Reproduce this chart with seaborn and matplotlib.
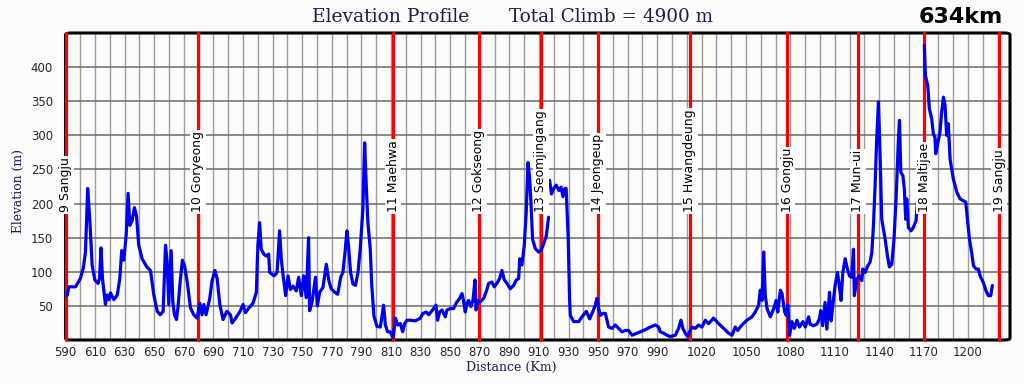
import numpy as np
import pandas as pd
import matplotlib
matplotlib.use("Agg")
import matplotlib.pyplot as plt
import seaborn as sns
from matplotlib.patches import FancyBboxPatch

# elevation trace (km, m) - three unbroken pieces
km_a = [590, 591, 592.3, 596.8, 600, 602, 603.5, 605, 606.4, 608, 609.8, 612, 613, 614, 615,
        616.3, 617, 618, 619.3, 620.4, 621.5, 622.7, 625, 626.7, 628, 629.4, 631, 632.3, 633.5,
        635, 636.6, 638, 639.5, 641.8, 645, 647.4, 649.7, 652, 654, 656, 657.6, 658.7, 659.8,
        661.4, 662.5, 663.6, 665, 666, 667.3, 669, 670.4, 672.2, 674.5, 676.7, 679, 680.8, 682.3,
        683.5, 685, 687.5, 689, 691, 692.5, 694.3, 696.5, 699, 701.5, 702.6, 705, 708, 710, 711.6,
        714, 716.8, 719, 720, 721.2, 722.3, 724, 725.7, 727.3, 728, 731, 733, 734.7, 735.9, 737,
        738.8, 740.4, 742, 743.7, 746, 747.6, 749.4, 751, 752.7, 754.3, 755, 756.6, 759, 760.2,
        761.8, 764, 766.3, 768, 769.6, 772, 774, 776, 777.5, 779, 780.2, 781.3, 782.7, 784.3, 786,
        787.7, 789.2, 791, 792.2, 793.3, 794.4, 796, 797, 798.5, 800.5, 802.8, 805, 806.2, 807.7,
        809.5, 811.4, 813, 814.5, 816.3, 817.9, 819.2, 820.8, 823, 826.4, 829.8, 831.6, 833.9,
        835.5, 837, 838.8, 840.4, 841.5, 842.9, 844.5, 846.7, 847.8, 850, 852.3, 854, 856.4, 858,
        859, 860.2, 861.4, 862.5, 864, 865.4, 866.8, 867.5, 868.8, 870.4, 872.6, 874.4, 876, 878.2,
        879.8, 881.6, 883.4, 885, 886.6, 888.4, 890.6, 892.9, 894.7, 896.3, 897, 898.5, 900.1,
        901.4, 902.6, 903.7, 904.6, 905.7, 907.5, 909.8, 911.4, 913.2, 915, 916.5]
elev_a = [70, 65, 78, 78, 90, 105, 129, 222, 177, 110, 88, 83, 90, 135, 90,
          66, 52, 66, 59, 69, 64, 59, 66, 90, 131, 117, 153, 215, 168,
          175, 194, 182, 139, 119, 107, 102, 66, 42, 37, 42, 139, 115, 52,
          131, 57, 37, 30, 47, 81, 117, 110, 86, 47, 37, 32, 54, 37,
          52, 37, 61, 86, 102, 90, 52, 30, 42, 37, 25, 32, 42, 52, 40,
          47, 54, 70, 138, 172, 133, 126, 123, 126, 99, 94, 99, 160, 118, 96,
          65, 94, 74, 79, 72, 92, 65, 94, 62, 150, 43, 55, 92, 50,
          70, 77, 111, 87, 75, 70, 67, 92, 99, 130, 160, 138, 99, 82, 80,
          99, 133, 192, 289, 226, 172, 133, 80, 35, 20, 19, 51, 22, 12,
          12, 3, 32, 22, 24, 12, 24, 29, 29, 28, 32, 39, 41,
          37, 41, 46, 51, 29, 41, 44, 34, 44, 46, 46, 54, 61, 68,
          58, 41, 54, 58, 49, 58, 88, 44, 58, 56, 61, 71, 83, 85,
          78, 83, 90, 102, 88, 83, 75, 80, 88, 90, 119, 110, 139,
          187, 260, 238, 202, 148, 134, 129, 131, 141, 153, 180]

km_b = [917.2, 918.5, 920, 921.7, 923.5, 925, 926.2, 927.5, 928.4, 929.8, 930.7, 931.2, 933.5,
        936.9, 939.1, 942, 944.3, 945.9, 948.1, 949.2, 950.4, 951.5, 953.3, 954.9, 957.1, 959.4,
        961.6, 963.9, 966.1, 968.4, 970.6, 972.9, 976.3, 980.8, 985.3, 988.7, 990.9, 992, 994.3,
        996.5, 998.8, 1002.2, 1004.4, 1006, 1007.3, 1008.9, 1010.5, 1011.8, 1013.4, 1015.7,
        1017.9, 1020.2, 1022.4, 1024.7, 1028, 1031.5, 1034.8, 1038.2, 1040.5, 1042.7, 1044.3,
        1047.2, 1050.6, 1054, 1056.2, 1058.5, 1059.6, 1060.8, 1061.9, 1063, 1064.2, 1066.4,
        1068.7, 1070.3, 1071.4, 1073.2, 1074.3, 1076.1, 1077.2, 1078.3, 1079.4, 1081, 1082.6,
        1084.4, 1086.1, 1088.4, 1090, 1092.3, 1093.3, 1095.5, 1097.8, 1099.6, 1100.5, 1101.8,
        1103.4, 1104.6, 1106.4, 1107.5, 1108.6, 1110.2, 1111.8, 1113.1, 1114.2, 1115.4, 1117,
        1118.5, 1119.9, 1121.4, 1122.6, 1123.2, 1124.8, 1126.6, 1128.2, 1128.9, 1130.5, 1132.3,
        1133.8, 1135, 1136.1, 1137.2, 1138.3, 1139.5, 1140.6, 1141.7, 1144, 1145.5, 1146.9,
        1148.5, 1150, 1151.4, 1153, 1153.7, 1154.6, 1156, 1157, 1157.9, 1158.6, 1159.7, 1161.5,
        1163.1, 1164.9, 1166]
elev_b = [234, 214, 222, 227, 219, 224, 210, 222, 222, 148, 61, 36, 27,
          27, 34, 42, 31, 39, 51, 61, 46, 36, 39, 39, 19, 17,
          22, 17, 12, 14, 14, 7, 10, 14, 19, 22, 19, 12, 10,
          7, 5, 7, 17, 29, 17, 10, 5, 12, 19, 17,
          22, 19, 29, 24, 32, 24, 17, 10, 7, 19, 14,
          22, 29, 34, 41, 51, 73, 58, 129, 65, 46, 34,
          46, 58, 41, 73, 68, 41, 36, 51, 7, 27, 17,
          29, 19, 27, 19, 34, 23, 21, 23, 31, 43, 21,
          55, 16, 70, 28, 50, 80, 99, 78, 58, 99, 119,
          104, 94, 92, 133, 65, 89, 94, 87, 104, 99, 109,
          114, 128, 168, 226, 295, 349, 270, 177, 148, 124, 107,
          111, 148, 207, 295, 322, 246, 241, 221, 177, 207, 165, 160,
          165, 175, 207]

km_c = [1170.5, 1171.2, 1172.8, 1173.9, 1175.5, 1176.6, 1177.7, 1178.2, 1179.3, 1181.1, 1182.2,
        1183.4, 1184.5, 1185.6, 1186.7, 1187.9, 1190.1, 1192.4, 1194.6, 1196.9, 1198.5, 1199.6,
        1201, 1202.5, 1203.7, 1205.5, 1207, 1208.2, 1210.4, 1212.2, 1213.8, 1215.4, 1216.5]
elev_c = [432, 388, 373, 339, 324, 302, 297, 273, 285, 305, 334,
          356, 344, 300, 317, 265, 236, 217, 207, 204, 202, 177,
          148, 128, 109, 104, 104, 94, 84, 72, 65, 65, 80]

stage_km = [590, 679.5, 811.6, 869.3, 911.1, 949.7, 1012, 1077.8, 1125.5, 1170.5, 1221]
stage_names = ["9 Sangju", "10 Goryeong", "11 Maehwa", "12 Gokseong", "13 Seomjingang",
               "14 Jeongeup", "15 Hwangdeung", "16 Gongju", "17 Mun-ui", "18 Maltijae",
               "19 Sangju"]

xtick_labels = [590, 610, 630, 650, 670, 690, 710, 730, 750, 770, 790, 810, 830, 850, 870,
                890, 910, 930, 950, 970, 990, 1020, 1050, 1080, 1110, 1140, 1170, 1200]
ytick_labels = [50, 100, 150, 200, 250, 300, 350, 400]

df = pd.concat([
    pd.DataFrame({"km": km_a, "elev": elev_a, "seg": 0}),
    pd.DataFrame({"km": km_b, "elev": elev_b, "seg": 1}),
    pd.DataFrame({"km": km_c, "elev": elev_c, "seg": 2}),
])

bg = "#fbfcfb"
navy = "#1b1b55"
sns.set_style("white")

fig = plt.figure(figsize=(10.24, 3.84), dpi=100, facecolor=bg)
ax = fig.add_axes([65.5 / 1024, 44 / 384, (1010 - 65.5) / 1024, 307 / 384])
ax.set_facecolor(bg)

# rounded black frame, kept under the stage markers
for s in ax.spines.values():
    s.set_visible(False)
ax.add_patch(FancyBboxPatch((0, 0), 1, 1, boxstyle="round,pad=0,rounding_size=0.006",
                            transform=ax.transAxes, fill=False, ec="black", lw=2.2,
                            clip_on=False, zorder=1.8))

for k in stage_km:
    ax.axvline(k, color="#ff0000", lw=2.3, zorder=2, clip_on=False)

sns.lineplot(data=df, x="km", y="elev", units="seg", estimator=None,
             color="#0000f0", lw=2.3, ax=ax, zorder=3)

for k, name in zip(stage_km, stage_names):
    ax.text(k, 187, name, rotation=90, ha="center", va="bottom", fontsize=9,
            color="black", zorder=4, clip_on=False,
            bbox=dict(boxstyle="square,pad=0.12", fc="white", ec="none"))

ax.set_xlim(590, 1228.4)
ax.set_ylim(0, 450)

grid_km = np.arange(590, 1230, 10)
ax.set_xticks(grid_km)
ax.set_xticklabels([str(g) if g in xtick_labels else "" for g in grid_km], fontsize=8.5)
ax.set_yticks(ytick_labels)
ax.set_yticklabels([str(v) for v in ytick_labels], fontsize=8.5)
ax.tick_params(length=0)
ax.tick_params(axis="x", pad=4)
ax.tick_params(axis="y", pad=9)
ax.grid(axis="x", color="#9c9c9c", lw=1.0)
ax.grid(axis="y", color="#6b6b6b", lw=1.1)
ax.set_axisbelow(True)

ax.set_xlabel("Distance (Km)", fontsize=9, color=navy, family="DejaVu Serif")
ax.xaxis.set_label_coords(0.472, -0.068)
ax.set_ylabel("Elevation (m)", fontsize=8.8, color=navy, family="DejaVu Serif")
ax.yaxis.set_label_coords(-0.043, 0.485)

fig.text(312 / 1024, 1 - 17 / 384, "Elevation Profile", fontsize=13.5, color=navy,
         family="DejaVu Serif", ha="left", va="center")
fig.text(509 / 1024, 1 - 17 / 384, "Total Climb = 4900 m", fontsize=13.2, color=navy,
         family="DejaVu Serif", ha="left", va="center")
fig.text(1003 / 1024, 1 - 17 / 384, "634km", fontsize=16, fontweight="bold",
         color="black", ha="right", va="center")

fig.savefig("out.png", dpi=100, facecolor=bg)
